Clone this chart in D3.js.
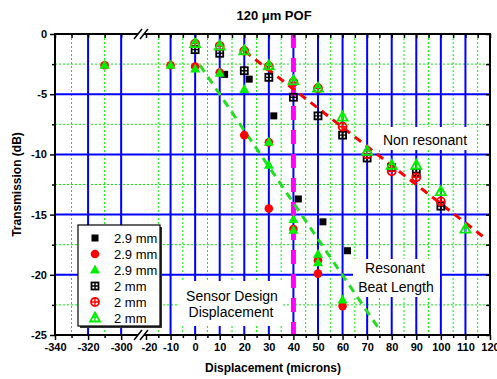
<!DOCTYPE html>
<html>
<head>
<meta charset="utf-8">
<script src="https://cdn.jsdelivr.net/npm/d3@7"></script>
<style>
  body { margin: 0; background: #fff; }
  text { font-family: Arial, 'Liberation Sans', sans-serif; }
</style>
</head>
<body>
<div id="chart"></div>
<script>
// filled symbols, 2.9 mm
const sqFilledX = [12, 22, 32, 42, 52, 62];
const sqFilledY = [-3.35, -3.75, -6.8, -13.7, -15.6, -18.0];
const circFilledX = [-310, -10, 0, 10, 20, 30, 30, 40, 50, 50, 60];
const circFilledY = [-2.6, -2.6, -2.7, -3.2, -8.4, -9.0, -14.5, -16.2, -18.8, -19.9, -22.6];
const triFilledX = [-310, -10, 0, 10, 20, 30, 30, 40, 40, 50, 50, 60];
const triFilledY = [-2.6, -2.6, -2.9, -3.25, -4.6, -9.0, -10.9, -15.4, -16.3, -18.3, -19.0, -22.1];

// open (crossed) symbols, 2 mm
const sqOpenX = [0, 10, 20, 30, 40, 50, 60, 70, 80, 90, 100];
const sqOpenY = [-1.3, -1.6, -3.05, -3.6, -5.25, -6.8, -8.4, -10.3, -11.1, -11.5, -14.3];
const circOpenX = [0, 10, 20, 30, 40, 50, 60, 70, 80, 90, 100];
const circOpenY = [-0.8, -1.0, -1.4, -2.7, -4.0, -4.5, -7.7, -10.0, -11.4, -11.9, -13.9];
const triOpenX = [0, 10, 20, 30, 40, 50, 60, 70, 80, 90, 100, 110];
const triOpenY = [-0.8, -1.0, -1.4, -2.65, -3.9, -4.5, -6.9, -9.75, -10.9, -10.9, -13.1, -16.2];

// guide lines
const fitRedX = [20, 117];
const fitRedY = [-1.4, -16.8];
const fitGreenX = [2, 75.5];
const fitGreenY = [-2.6, -24.7];
const designX = 40;

// ticks
const leftMajor = [-340, -320, -300];
const leftMinor = [-330, -310];
const rightMajor = [-20, -10, 0, 10, 20, 30, 40, 50, 60, 70, 80, 90, 100, 110, 120];
const rightMinor = [-15, -5, 5, 15, 25, 35, 45, 55, 65, 75, 85, 95, 105, 115];
const yMajor = [0, -5, -10, -15, -20, -25];
const yMinor = [-2.5, -7.5, -12.5, -17.5, -22.5];

const legendLabels = ['2.9 mm', '2.9 mm', '2.9 mm', '2 mm', '2 mm', '2 mm'];

const width = 497;
const height = 379;
const mLeft = 55, mRight = 490, mTop = 34, mBottom = 335;
const breakX = 141;

const svg = d3.select('#chart').append('svg')
  .attr('width', width)
  .attr('height', height);

const xL = d3.scaleLinear().domain([-340, -288]).range([mLeft, breakX]);
const xR = d3.scaleLinear().domain([-20, 120]).range([146, mRight]);
const x = v => v < -100 ? xL(v) : xR(v);
const y = d3.scaleLinear().domain([0, -25]).range([mTop, mBottom]);

const blue = '#0000ff';
const green = '#00ee00';
const plain = d => String(d);

// grid
const grid = svg.append('g');
const vMajor = [-320, -300].concat(rightMajor.filter(d => d > -20 && d < 120));
const vMinor = leftMinor.concat(rightMinor);
grid.selectAll('.vminor').data(vMinor).join('line')
  .attr('x1', d => x(d)).attr('x2', d => x(d))
  .attr('y1', mTop).attr('y2', mBottom)
  .attr('stroke', green).attr('stroke-width', 1).attr('stroke-dasharray', '2,2');
grid.selectAll('.hminor').data(yMinor).join('line')
  .attr('x1', mLeft).attr('x2', mRight)
  .attr('y1', d => y(d)).attr('y2', d => y(d))
  .attr('stroke', green).attr('stroke-width', 1).attr('stroke-dasharray', '2,2');
grid.selectAll('.vmajor').data(vMajor).join('line')
  .attr('x1', d => x(d)).attr('x2', d => x(d))
  .attr('y1', mTop).attr('y2', mBottom)
  .attr('stroke', blue).attr('stroke-width', 2);
grid.selectAll('.hmajor').data(yMajor.slice(1, -1)).join('line')
  .attr('x1', mLeft).attr('x2', mRight)
  .attr('y1', d => y(d)).attr('y2', d => y(d))
  .attr('stroke', blue).attr('stroke-width', 2);

// white boxes behind annotations
const boxes = [[369, 127, 106, 23], [353, 259, 87, 38], [179, 281, 103, 45]];
svg.append('g').selectAll('rect').data(boxes).join('rect')
  .attr('x', d => d[0]).attr('y', d => d[1])
  .attr('width', d => d[2]).attr('height', d => d[3])
  .attr('fill', '#fff');

// guide lines
svg.append('line')
  .attr('x1', x(designX)).attr('x2', x(designX))
  .attr('y1', y(0)).attr('y2', y(-25))
  .attr('stroke', '#ff00ff').attr('stroke-width', 5).attr('stroke-dasharray', '14,10');
svg.append('line')
  .attr('x1', x(fitGreenX[0])).attr('y1', y(fitGreenY[0]))
  .attr('x2', x(fitGreenX[1])).attr('y2', y(fitGreenY[1]))
  .attr('stroke', '#22dd22').attr('stroke-width', 3).attr('stroke-dasharray', '8,6');
svg.append('line')
  .attr('x1', x(fitRedX[0])).attr('y1', y(fitRedY[0]))
  .attr('x2', x(fitRedX[1])).attr('y2', y(fitRedY[1]))
  .attr('stroke', '#ff0000').attr('stroke-width', 3).attr('stroke-dasharray', '8,6');

// markers
function drawMarker(g, kind, cx, cy) {
  if (kind === 'sqF') {
    g.append('rect').attr('x', cx - 3.5).attr('y', cy - 3.5).attr('width', 7).attr('height', 7).attr('fill', '#000');
  } else if (kind === 'circF') {
    g.append('circle').attr('cx', cx).attr('cy', cy).attr('r', 4.3).attr('fill', '#ff0000');
  } else if (kind === 'triF') {
    g.append('path').attr('transform', `translate(${cx},${cy})`)
      .attr('d', 'M0,-5.5L5,3.5L-5,3.5Z').attr('fill', '#00ee00');
  } else if (kind === 'sqO') {
    g.append('rect').attr('x', cx - 3.5).attr('y', cy - 3.5).attr('width', 7).attr('height', 7)
      .attr('fill', 'none').attr('stroke', '#000').attr('stroke-width', 1.8);
    g.append('path').attr('d', `M${cx - 3.5},${cy}H${cx + 3.5}M${cx},${cy - 3.5}V${cy + 3.5}`)
      .attr('stroke', '#000').attr('stroke-width', 1.4);
  } else if (kind === 'circO') {
    g.append('circle').attr('cx', cx).attr('cy', cy).attr('r', 4)
      .attr('fill', 'none').attr('stroke', '#ff0000').attr('stroke-width', 1.8);
    g.append('path').attr('d', `M${cx - 4},${cy}H${cx + 4}M${cx},${cy - 4}V${cy + 4}`)
      .attr('stroke', '#ff0000').attr('stroke-width', 1.4);
  } else if (kind === 'triO') {
    g.append('path').attr('transform', `translate(${cx},${cy})`)
      .attr('d', 'M0,-5.5L5,3.5L-5,3.5Z')
      .attr('fill', 'none').attr('stroke', '#00ee00').attr('stroke-width', 1.8);
    g.append('path').attr('d', `M${cx - 2.5},${cy - 1}H${cx + 2.5}M${cx},${cy - 5.5}V${cy + 3.5}`)
      .attr('stroke', '#00ee00').attr('stroke-width', 1.4);
  }
}

const series = [
  { kind: 'sqF', xs: sqFilledX, ys: sqFilledY },
  { kind: 'circF', xs: circFilledX, ys: circFilledY },
  { kind: 'triF', xs: triFilledX, ys: triFilledY },
  { kind: 'sqO', xs: sqOpenX, ys: sqOpenY },
  { kind: 'circO', xs: circOpenX, ys: circOpenY },
  { kind: 'triO', xs: triOpenX, ys: triOpenY }
];

const marks = svg.append('g');
series.forEach(s => {
  s.xs.forEach((v, i) => drawMarker(marks, s.kind, x(v), y(s.ys[i])));
});

// axes
const axisFont = g => g.selectAll('text')
  .attr('font-size', 11).attr('font-weight', 'bold').attr('fill', '#000')
  .attr('font-family', "Arial, 'Liberation Sans', sans-serif");

function addBottom(scale, major, minor) {
  svg.append('g').attr('transform', `translate(0,${mBottom})`)
    .call(d3.axisBottom(scale).tickValues(minor).tickSize(3).tickFormat(''))
    .call(g => g.select('.domain').remove())
    .call(g => g.selectAll('line').attr('stroke-width', 1.5));
  svg.append('g').attr('transform', `translate(0,${mBottom})`)
    .call(d3.axisBottom(scale).tickValues(major).tickSize(5).tickPadding(3).tickFormat(plain))
    .call(g => g.select('.domain').remove())
    .call(g => g.selectAll('line').attr('stroke-width', 1.5))
    .call(axisFont)
    .call(g => g.selectAll('.tick').filter(d => d === -20).select('text').attr('dx', 3));
  svg.append('g').attr('transform', `translate(0,${mTop})`)
    .call(d3.axisBottom(scale).tickValues(major.concat(minor)).tickSize(4).tickFormat(''))
    .call(g => g.select('.domain').remove())
    .call(g => g.selectAll('line').attr('stroke-width', 1.5));
}
addBottom(xL, leftMajor, leftMinor);
addBottom(xR, rightMajor, rightMinor);

svg.append('g').attr('transform', `translate(${mLeft},0)`)
  .call(d3.axisLeft(y).tickValues(yMajor).tickSize(5).tickPadding(3).tickFormat(plain))
  .call(g => g.select('.domain').remove())
  .call(g => g.selectAll('line').attr('stroke-width', 1.5))
  .call(axisFont);
svg.append('g').attr('transform', `translate(${mLeft},0)`)
  .call(d3.axisLeft(y).tickValues(yMinor).tickSize(3).tickFormat(''))
  .call(g => g.select('.domain').remove())
  .call(g => g.selectAll('line').attr('stroke-width', 1.5));
svg.append('g').attr('transform', `translate(${mRight},0)`)
  .call(d3.axisLeft(y).tickValues(yMajor.concat(yMinor)).tickSize(4).tickFormat(''))
  .call(g => g.select('.domain').remove())
  .call(g => g.selectAll('line').attr('stroke-width', 1.5));

// frame
svg.append('rect')
  .attr('x', mLeft).attr('y', mTop)
  .attr('width', mRight - mLeft).attr('height', mBottom - mTop)
  .attr('fill', 'none').attr('stroke', '#000').attr('stroke-width', 2);

// axis break marks
[mTop, mBottom].forEach(yy => {
  svg.append('rect').attr('x', breakX - 3).attr('y', yy - 2).attr('width', 6).attr('height', 4).attr('fill', '#fff');
  [breakX - 3, breakX + 3].forEach(bx => {
    svg.append('line')
      .attr('x1', bx - 4).attr('y1', yy + 5)
      .attr('x2', bx + 4).attr('y2', yy - 5)
      .attr('stroke', '#000').attr('stroke-width', 1.5);
  });
});

// legend
const lg = svg.append('g');
lg.append('rect').attr('x', 80).attr('y', 227).attr('width', 82).attr('height', 101).attr('fill', '#333');
lg.append('rect').attr('x', 78).attr('y', 225).attr('width', 82).attr('height', 101)
  .attr('fill', '#fff').attr('stroke', '#000').attr('stroke-width', 1.2);
series.forEach((s, i) => {
  const ly = 238 + i * 16;
  drawMarker(lg, s.kind, 95, ly);
  lg.append('text').attr('x', 114).attr('y', ly + 5)
    .attr('font-size', 13).text(legendLabels[i]);
});

// annotations
const notes = [
  ['Non resonant', 425, 145],
  ['Resonant', 395, 273],
  ['Beat Length', 396, 292],
  ['Sensor Design', 232, 301],
  ['Displacement', 231, 317]
];
svg.append('g').selectAll('text').data(notes).join('text')
  .attr('x', d => d[1]).attr('y', d => d[2])
  .attr('text-anchor', 'middle').attr('font-size', 14)
  .text(d => d[0]);

// titles
svg.append('text')
  .attr('x', 274).attr('y', 20)
  .attr('text-anchor', 'middle').attr('font-size', 13).attr('font-weight', 'bold')
  .text('120 μm POF');
svg.append('text')
  .attr('x', 273).attr('y', 372)
  .attr('text-anchor', 'middle').attr('font-size', 12).attr('font-weight', 'bold')
  .text('Displacement (microns)');
svg.append('text')
  .attr('transform', `translate(21,${(mTop + mBottom) / 2}) rotate(-90)`)
  .attr('text-anchor', 'middle').attr('font-size', 12).attr('font-weight', 'bold')
  .text('Transmission (dB)');
</script>
</body>
</html>
